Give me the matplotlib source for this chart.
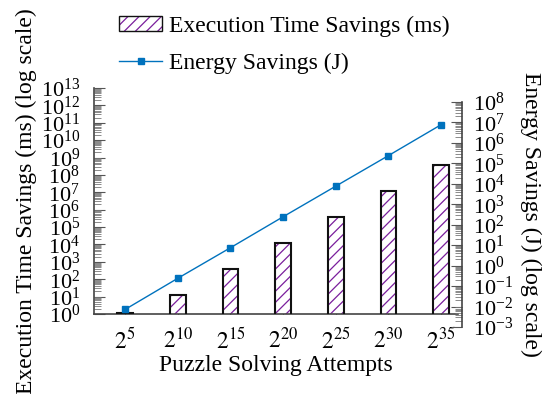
import numpy as np
import matplotlib
matplotlib.use("Agg")
import matplotlib.pyplot as plt
from matplotlib.patches import Patch
from matplotlib.lines import Line2D
from matplotlib.ticker import LogLocator, NullFormatter, FixedLocator

plt.rcParams["font.family"] = ["Liberation Serif", "DejaVu Serif"]
plt.rcParams["mathtext.fontset"] = "stix"
plt.rcParams["hatch.linewidth"] = 0.9

# ── data ──
exponents = [5, 10, 15, 20, 25, 30, 35]
tick_labels = [f"$2^{{{e}}}$" for e in exponents]
time_savings_ms = [1.1, 12, 370, 1.15e4, 3.6e5, 1.15e7, 3.6e8]
energy_savings_j = [0.0072, 0.24, 7.5, 245, 7.7e3, 2.4e5, 7.8e6]

BAR_EDGE = "#111111"
HATCH_COL = "#7a1e9c"
LINE_COL = "#0072BD"
FS = 17

fig = plt.figure(figsize=(5.48, 3.94), dpi=100)
W, H = 548, 394

def box(l, t, r, b):
    return [l / W, 1 - b / H, (r - l) / W, (b - t) / H]

ax1 = fig.add_axes(box(94, 88, 458, 314))
x = np.arange(len(exponents))

# hatch layer then outline layer
ax1.bar(x, time_savings_ms, width=0.3, color="white", edgecolor=HATCH_COL,
        hatch="///", linewidth=0, zorder=2)
ax1.bar(x, time_savings_ms, width=0.3, fill=False, edgecolor=BAR_EDGE,
        linewidth=1.5, zorder=3)
ax1.set_yscale("log")
ax1.set_ylim(1, 1e13)
ax1.set_xlim(-0.59, 6.32)
ax1.set_axisbelow(True)
ax1.yaxis.set_major_locator(FixedLocator([10.0 ** k for k in range(14)]))
ax1.yaxis.set_minor_locator(LogLocator(base=10, subs=np.arange(2, 10), numticks=100))
ax1.yaxis.set_minor_formatter(NullFormatter())
ax1.set_xticks(x)
ax1.set_xticklabels(tick_labels)
ax1.tick_params(axis="y", which="major", direction="in", length=8, width=0.8,
                labelsize=16, pad=10, color="#555555")
ax1.tick_params(axis="y", which="minor", direction="in", length=5, width=0.6,
                color="#777777")
ax1.tick_params(axis="x", direction="in", length=6, width=0.8, labelsize=FS, pad=10)
for s in ["top", "right"]:
    ax1.spines[s].set_visible(False)
for s in ["left", "bottom"]:
    ax1.spines[s].set_color("#444444")
    ax1.spines[s].set_linewidth(1.2)
ax1.set_xlabel("Puzzle Solving Attempts", fontsize=FS, labelpad=1)
ax1.set_ylabel("Execution Time Savings (ms) (log scale)", fontsize=FS, labelpad=3)

# right axis: separate box, same x mapping
ax2 = fig.add_axes(box(94, 102, 458, 327))
ax2.patch.set_visible(False)
ax2.plot(x, energy_savings_j, color=LINE_COL, linewidth=1.0, marker="s",
         markersize=4.5, clip_on=False, zorder=4)
ax2.set_yscale("log")
ax2.set_ylim(1e-3, 1e8)
ax2.set_xlim(ax1.get_xlim())
for s in ["top", "left", "bottom"]:
    ax2.spines[s].set_visible(False)
ax2.spines["right"].set_position(("outward", 3))
ax2.spines["right"].set_color("#444444")
ax2.spines["right"].set_linewidth(1.2)
ax2.set_xticks([])
ax2.yaxis.tick_right()
ax2.yaxis.set_label_position("right")
ax2.yaxis.set_major_locator(FixedLocator([10.0 ** k for k in range(-3, 9)]))
ax2.yaxis.set_minor_locator(LogLocator(base=10, subs=np.arange(2, 10), numticks=100))
ax2.yaxis.set_minor_formatter(NullFormatter())
ax2.tick_params(axis="y", which="major", direction="in", length=8, width=0.8,
                labelsize=16, pad=8, color="#555555")
ax2.tick_params(axis="y", which="minor", direction="in", length=5, width=0.6,
                color="#777777")
ax2.set_ylabel("Energy Savings (J) (log scale)", fontsize=FS, rotation=270,
               labelpad=20)

# legend
bar_handle = (Patch(facecolor="white", edgecolor=HATCH_COL, hatch="///", linewidth=0),
              Patch(fill=False, edgecolor=BAR_EDGE, linewidth=1.0))
line_handle = Line2D([], [], color=LINE_COL, linewidth=1.0, marker="s", markersize=4)
fig.legend([bar_handle, line_handle],
           ["Execution Time Savings (ms)", "Energy Savings (J)"],
           loc="upper left", bbox_to_anchor=(110 / W, 1 - 6 / H), frameon=False,
           fontsize=FS, handlelength=1.8, handleheight=0.6, handletextpad=0.3,
           labelspacing=0.7, borderaxespad=0)

fig.savefig("out.png", dpi=100)
